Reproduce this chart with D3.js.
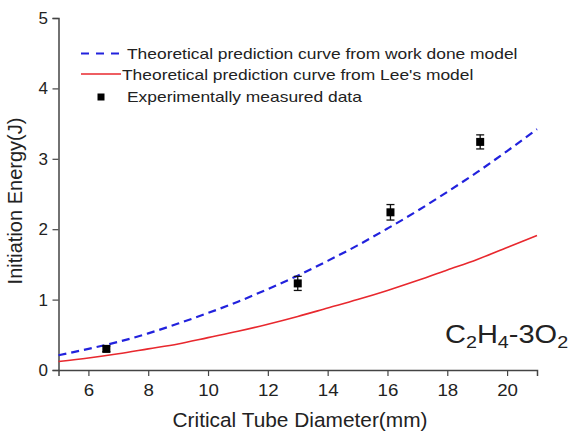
<!DOCTYPE html>
<html>
<head>
<meta charset="utf-8">
<title>C2H4-3O2 initiation energy</title>
<script src="https://d3js.org/d3.v7.min.js"></script>
<style>
  body { margin: 0; background: #fff; }
  svg text { font-family: 'Liberation Sans', Arial, sans-serif; fill: #222; }
</style>
</head>
<body>
<div id="chart"></div>
<script>
// diameters (mm) sampled along the curves
var curveX = [5, 6, 7, 8, 9, 10, 11, 12, 13, 14, 15, 16, 17, 18, 19, 20, 21];
// work done model (blue dashed)
var workDone = [0.21, 0.30, 0.40, 0.52, 0.66, 0.81, 0.97, 1.15, 1.34, 1.55, 1.77, 2.01, 2.26, 2.53, 2.81, 3.11, 3.42];
// Lee's model (red)
var leeModel = [0.12, 0.17, 0.23, 0.30, 0.37, 0.46, 0.55, 0.65, 0.76, 0.88, 1.00, 1.13, 1.27, 1.42, 1.57, 1.74, 1.91];
// experiments
var expX = [6.6, 13.0, 16.1, 19.1];
var expY = [0.30, 1.23, 2.24, 3.24];
var expErr = [0.04, 0.10, 0.11, 0.10];

var xTicks = [6, 8, 10, 12, 14, 16, 18, 20];
var yTicks = [0, 1, 2, 3, 4, 5];
var legendLabels = [
  "Theoretical prediction curve from work done model",
  "Theoretical prediction curve from Lee's model",
  "Experimentally measured data"
];

var W = 576, H = 437;
var svg = d3.select("#chart").append("svg")
  .attr("width", W).attr("height", H);

var x = d3.scaleLinear().domain([5, 21]).range([58.5, 537]);
var y = d3.scaleLinear().domain([0, 5]).range([370, 18]);

// axes (major + minor ticks)
var xAxis = svg.append("g").attr("transform", "translate(0," + y(0) + ")");
xAxis.call(d3.axisBottom(x).tickValues(d3.range(5, 22, 1)).tickSize(3).tickFormat(""));
xAxis.call(d3.axisBottom(x).tickValues(xTicks).tickSize(6).tickFormat(d3.format("d")).tickPadding(8));
xAxis.selectAll("path.domain").attr("stroke", "#444").attr("stroke-width", 1.5);
xAxis.selectAll("line").attr("stroke", "#444").attr("stroke-width", 1.2);
xAxis.selectAll("text").style("font-size", "17px").attr("fill", "#222")
  .attr("transform", "scale(1.1,1)");

var yAxis = svg.append("g").attr("transform", "translate(" + x(5) + ",0)");
yAxis.call(d3.axisLeft(y).tickValues(d3.range(0, 5.01, 0.5)).tickSize(3).tickFormat(""));
yAxis.call(d3.axisLeft(y).tickValues(yTicks).tickSize(6).tickFormat(d3.format("d")).tickPadding(4.5));
yAxis.selectAll("path.domain").attr("stroke", "#444").attr("stroke-width", 1.5);
yAxis.selectAll("line").attr("stroke", "#444").attr("stroke-width", 1.2);
yAxis.selectAll("text").style("font-size", "17px").attr("fill", "#222");

// axis titles
svg.append("text")
  .attr("transform", "translate(300,427) scale(1.07,1)")
  .attr("text-anchor", "middle")
  .style("font-size", "19.5px")
  .text("Critical Tube Diameter(mm)");

svg.append("text")
  .attr("transform", "translate(22,201) rotate(-90)")
  .attr("text-anchor", "middle")
  .style("font-size", "20px")
  .text("Initiation Energy(J)");

// curves
var line = d3.line().curve(d3.curveMonotoneX);

svg.append("path")
  .datum(curveX.map(function(d, i) { return [x(d), y(leeModel[i])]; }))
  .attr("d", line)
  .attr("fill", "none")
  .attr("stroke", "#e8282e")
  .attr("stroke-width", 1.6);

svg.append("path")
  .datum(curveX.map(function(d, i) { return [x(d), y(workDone[i])]; }))
  .attr("d", line)
  .attr("fill", "none")
  .attr("stroke", "#2222dd")
  .attr("stroke-width", 2.2)
  .attr("stroke-dasharray", "8,5");

// experimental points with error bars
var pts = svg.append("g").selectAll("g")
  .data(expX.map(function(d, i) { return {x: d, y: expY[i], e: expErr[i]}; }))
  .enter().append("g");

pts.append("line")
  .attr("x1", function(d) { return x(d.x); })
  .attr("x2", function(d) { return x(d.x); })
  .attr("y1", function(d) { return y(d.y + d.e); })
  .attr("y2", function(d) { return y(d.y - d.e); })
  .attr("stroke", "#111").attr("stroke-width", 1.3);
[1, -1].forEach(function(s) {
  pts.append("line")
    .attr("x1", function(d) { return x(d.x) - 4; })
    .attr("x2", function(d) { return x(d.x) + 4; })
    .attr("y1", function(d) { return y(d.y + s * d.e); })
    .attr("y2", function(d) { return y(d.y + s * d.e); })
    .attr("stroke", "#111").attr("stroke-width", 1.3);
});
pts.append("rect")
  .attr("x", function(d) { return x(d.x) - 4; })
  .attr("y", function(d) { return y(d.y) - 4; })
  .attr("width", 8).attr("height", 8)
  .attr("fill", "#000");

// legend
var leg = svg.append("g");
leg.append("line").attr("x1", 81).attr("x2", 125).attr("y1", 53.5).attr("y2", 53.5)
  .attr("stroke", "#2222dd").attr("stroke-width", 2).attr("stroke-dasharray", "8,7");
leg.append("line").attr("x1", 81).attr("x2", 121).attr("y1", 74).attr("y2", 74)
  .attr("stroke", "#e8282e").attr("stroke-width", 1.6);
leg.append("rect").attr("x", 97.5).attr("y", 93.5).attr("width", 7).attr("height", 7).attr("fill", "#000");

var legX = [127, 122, 127];
var legY = [59, 80, 102];
leg.selectAll("text.lg").data(legendLabels).enter().append("text")
  .attr("class", "lg")
  .attr("transform", function(d, i) { return "translate(" + legX[i] + "," + legY[i] + ") scale(1.16,1)"; })
  .style("font-size", "15px")
  .text(function(d) { return d; });

// mixture label
var mix = svg.append("text")
  .attr("transform", "translate(445,343) scale(1.16,1)")
  .style("font-size", "25px");
mix.append("tspan").text("C");
mix.append("tspan").attr("dy", 5).style("font-size", "17px").text("2");
mix.append("tspan").attr("dy", -5).text("H");
mix.append("tspan").attr("dy", 5).style("font-size", "17px").text("4");
mix.append("tspan").attr("dy", -5).text("-3O");
mix.append("tspan").attr("dy", 5).style("font-size", "17px").text("2");
</script>
</body>
</html>
